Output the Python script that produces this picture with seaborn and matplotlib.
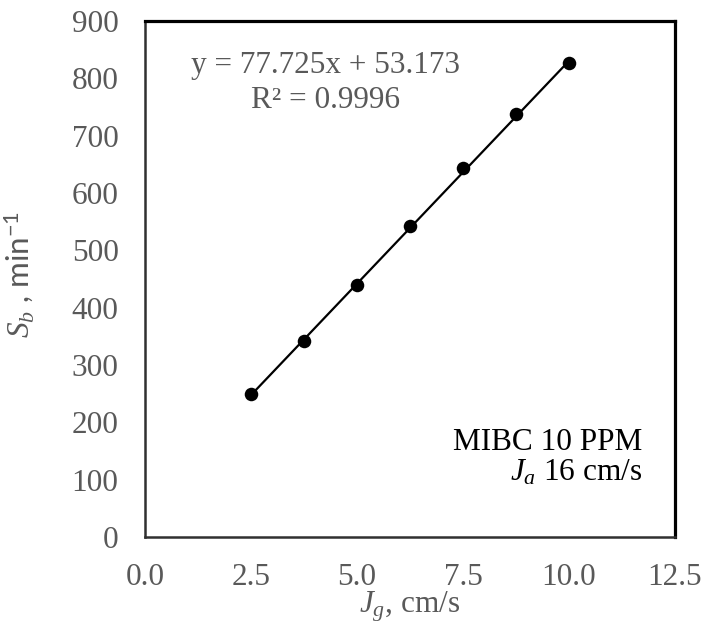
import numpy as np
import pandas as pd
import matplotlib
matplotlib.use("Agg")
import matplotlib.pyplot as plt
import seaborn as sns

# Superficial gas velocity (cm/s) and bubble surface area flux (1/min)
jg = [2.5, 3.75, 5.0, 6.25, 7.5, 8.75, 10.0]
sb = [250, 342, 440, 542, 643, 738, 826]

# Linear trendline coefficients
slope = 77.725
intercept = 53.173
r_squared = 0.9996

x_ticks = [0.0, 2.5, 5.0, 7.5, 10.0, 12.5]
y_ticks = [0, 100, 200, 300, 400, 500, 600, 700, 800, 900]

sns.set_theme(style="white")
plt.rcParams["font.family"] = ["Liberation Serif", "DejaVu Serif"]
plt.rcParams["mathtext.fontset"] = "custom"
plt.rcParams["mathtext.rm"] = "Liberation Serif"
plt.rcParams["mathtext.it"] = "Liberation Serif:italic"
plt.rcParams["mathtext.sf"] = "Lato"

gray = "#595959"
fs = 22.5

fig = plt.figure(figsize=(7.04, 6.32), dpi=100)
ax = fig.add_axes([145 / 704, (632 - 537) / 632, (675 - 145) / 704, (537 - 21) / 632])

df = pd.DataFrame({"Jg": jg, "Sb": sb})

# Trendline across the measured range
x_fit = np.array([min(jg), max(jg)])
fit = pd.DataFrame({"Jg": x_fit, "Sb": slope * x_fit + intercept})
sns.lineplot(data=fit, x="Jg", y="Sb", ax=ax, color="black", linewidth=1.6)

sns.scatterplot(data=df, x="Jg", y="Sb", ax=ax, color="black", s=95,
                edgecolor="black", linewidth=0, zorder=3)

ax.set_xlim(0, 12.5)
ax.set_ylim(0, 900)
ax.set_xticks(x_ticks)
ax.set_yticks(y_ticks)
ax.set_xticklabels([f"{v:.1f}" for v in x_ticks])
ax.set_yticklabels([str(v) for v in y_ticks])
ax.tick_params(axis="both", direction="in", length=6, width=1, color="#bfbfbf",
               labelsize=fs, labelcolor=gray, pad=19)

for side in ["left", "bottom", "right", "top"]:
    ax.spines[side].set_visible(True)
    ax.spines[side].set_color("black")
ax.spines["right"].set_linewidth(2.3)
ax.spines["top"].set_linewidth(2.3)
ax.spines["left"].set_linewidth(1.8)
ax.spines["bottom"].set_linewidth(1.8)
ax.spines["left"].set_color("#303030")
ax.spines["bottom"].set_color("#303030")

ax.set_xlabel(r"$J_g$, cm/s", fontsize=fs, color=gray, labelpad=-2)
ax.set_ylabel(r"$S_b$ , min$^{\mathsf{-1}}$", fontsize=fs, color=gray,
              family=["Lato", "DejaVu Sans"])
ax.yaxis.set_label_coords(-0.205, 0.508)

# Trendline equation
ax.text(4.25, 823, f"y = {slope}x + {intercept}", ha="center", va="center",
        fontsize=fs, color=gray)
ax.text(4.25, 762, f"R² = {r_squared}", ha="center", va="center",
        fontsize=fs, color=gray)

# Test conditions
ax.text(11.72, 164, "MIBC 10 PPM", ha="right", va="center",
        fontsize=fs, color="black")
ax.text(11.72, 112, r"$J_a$ 16 cm/s", ha="right", va="center",
        fontsize=fs, color="black")

fig.savefig("out.png", dpi=100)
